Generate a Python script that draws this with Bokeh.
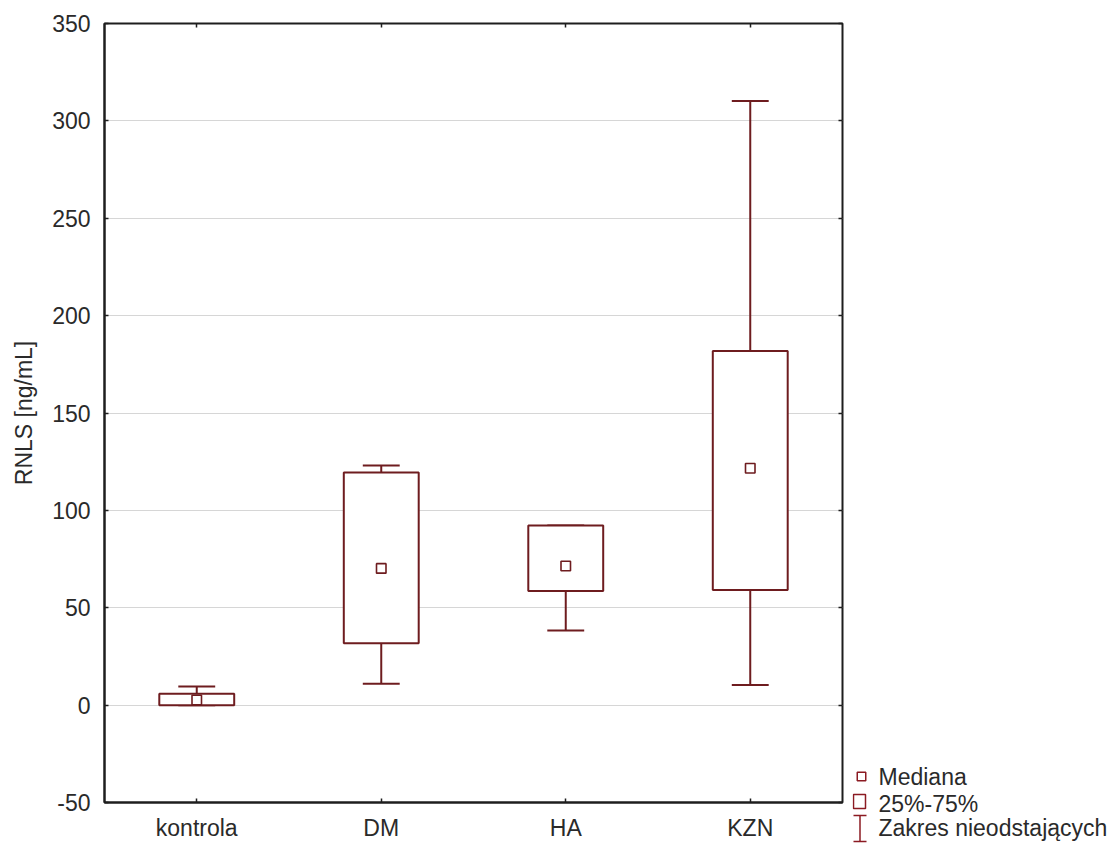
from bokeh.plotting import figure
from bokeh.models import Range1d, FixedTicker, LinearAxis
from bokeh.layouts import row
from bokeh.core.properties import value
from bokeh.embed import file_html
from bokeh.resources import INLINE

# ---- data ----
categories = ["kontrola", "DM", "HA", "KZN"]
whisker_low = [0.0, 11.0, 38.3, 10.3]
q1 = [0.0, 31.8, 58.6, 59.1]
median = [2.6, 70.2, 71.4, 121.6]
q3 = [5.9, 119.4, 92.2, 181.8]
whisker_high = [9.5, 123.0, 92.2, 310.2]
y_ticks = [-50, 0, 50, 100, 150, 200, 250, 300, 350]
legend_labels = ["Mediana", "25%-75%", "Zakres nieodstających"]
y_label = "RNLS [ng/mL]"

# ---- style ----
LINE = "#6e1c1f"
LEG = "#8b1a22"
TXT = "#2a2a2a"
FONT = "Liberation Sans"
FS = "23px"
MAIN_W, H = 852, 843
BL, BT = 104, 23
FH = 781

xs = [i + 0.5 for i in range(len(categories))]
half_box = 0.203
half_cap = 0.1

p = figure(width=MAIN_W, height=H, title=None,
           x_range=Range1d(0, len(categories)), y_range=Range1d(-50, 350),
           output_backend="svg", toolbar_location=None,
           min_border_left=BL, min_border_top=BT,
           min_border_right=10, min_border_bottom=H - BT - FH)
p.background_fill_color = "white"
p.border_fill_color = "white"
p.outline_line_color = "#1e1e1e"
p.outline_line_width = 2

p.xgrid.grid_line_color = None
p.ygrid.grid_line_color = "#d6d6d6"
p.ygrid.grid_line_width = 1.2

p.xaxis.ticker = FixedTicker(ticks=xs)
p.xaxis.major_label_overrides = {x: c for x, c in zip(xs, categories)}
p.yaxis.ticker = FixedTicker(ticks=y_ticks)
p.yaxis.major_label_overrides = {t: str(t) for t in y_ticks}
p.yaxis.axis_label = y_label
for ax in (p.xaxis[0], p.yaxis[0]):
    ax.major_tick_in = 4
    ax.major_tick_out = 0
    ax.minor_tick_line_color = None
    ax.axis_line_color = "#1e1e1e"
    ax.axis_line_width = 2
    ax.major_tick_line_color = "#1e1e1e"
    ax.major_tick_line_width = 1.5
    ax.major_label_text_font = FONT
    ax.major_label_text_font_size = FS
    ax.major_label_text_color = TXT
p.yaxis.major_label_standoff = 14
p.xaxis.major_label_standoff = 12
p.yaxis.axis_label_text_font = FONT
p.yaxis.axis_label_text_font_size = FS
p.yaxis.axis_label_text_font_style = "normal"
p.yaxis.axis_label_text_color = TXT
p.yaxis.axis_label_standoff = 12

# mirrored tick-only axes
right_ax = LinearAxis(ticker=FixedTicker(ticks=y_ticks), major_label_text_color=None,
                      major_label_standoff=0,
                      major_tick_in=4, major_tick_out=0, minor_tick_line_color=None,
                      axis_line_color=None, major_tick_line_color="#1e1e1e",
                      major_tick_line_width=1.5)
p.add_layout(right_ax, "right")
top_ax = LinearAxis(ticker=FixedTicker(ticks=xs), major_label_text_color=None,
                    major_label_standoff=0,
                    major_tick_in=4, major_tick_out=0, minor_tick_line_color=None,
                    axis_line_color=None, major_tick_line_color="#1e1e1e",
                    major_tick_line_width=1.5)
p.add_layout(top_ax, "above")

# whisker stems
p.segment(x0=xs, y0=q3, x1=xs, y1=whisker_high, line_color=LINE, line_width=2)
p.segment(x0=xs, y0=q1, x1=xs, y1=whisker_low, line_color=LINE, line_width=2)
# caps
p.segment(x0=[x - half_cap for x in xs], y0=whisker_high,
          x1=[x + half_cap for x in xs], y1=whisker_high, line_color=LINE, line_width=2)
p.segment(x0=[x - half_cap for x in xs], y0=whisker_low,
          x1=[x + half_cap for x in xs], y1=whisker_low, line_color=LINE, line_width=2)
# boxes
p.quad(left=[x - half_box for x in xs], right=[x + half_box for x in xs],
       bottom=q1, top=q3, fill_color="white", line_color=LINE, line_width=2)
# medians
p.scatter(x=xs, y=median, marker="square", size=9.5, fill_color="white",
          line_color=LINE, line_width=1.6)

# ---- legend panel (page pixel coordinates, y down) ----
LW = 1118 - MAIN_W
lg = figure(width=LW, height=H, frame_width=LW, frame_height=H - BT, title=None,
            x_range=Range1d(0, LW), y_range=Range1d(H, BT),
            output_backend="svg", toolbar_location=None,
            x_axis_location=None, y_axis_location=None,
            min_border_left=0, min_border_right=0,
            min_border_top=BT, min_border_bottom=0)
lg.outline_line_color = None
lg.xgrid.grid_line_color = None
lg.ygrid.grid_line_color = None
lg.background_fill_color = "white"
lg.border_fill_color = "white"

ox = MAIN_W  # page x of legend panel
# median symbol
lg.scatter(x=[861 - ox], y=[776], marker="square", size=8.5, fill_color="white",
           line_color=LEG, line_width=1.5)
# box symbol
lg.quad(left=[853 - ox], right=[865 - ox], top=[794], bottom=[808],
        fill_color="white", line_color=LEG, line_width=1.5)
# whisker symbol
wx = 859.5 - ox
lg.segment(x0=[wx, 853 - ox, 853 - ox], y0=[815, 815, 841],
           x1=[wx, 866 - ox, 866 - ox], y1=[841, 815, 841],
           line_color=LEG, line_width=1.5)
lg.text(x=[878 - ox] * 3, y=[776, 803, 827], text=legend_labels,
        text_font=value(FONT), text_font_size=FS, text_color=TXT,
        text_baseline="middle", text_align="left")

layout = row(p, lg, spacing=0)
open("out.html", "w").write(file_html(layout, INLINE))
